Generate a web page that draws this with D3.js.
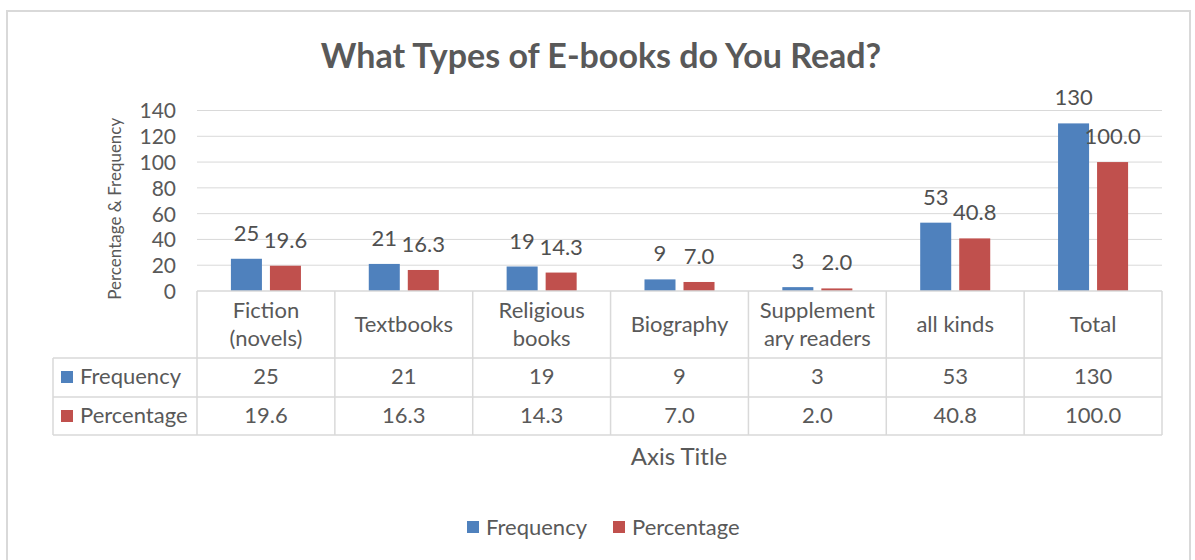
<!DOCTYPE html>
<html>
<head>
<meta charset="utf-8">
<script src="https://cdn.jsdelivr.net/npm/d3@7"></script>
<style>
  body { margin: 0; background: #ffffff; }
  text { font-family: Lato, "Open Sans", sans-serif; fill: #595959; }
  .title { font-weight: bold; }
</style>
</head>
<body>
<svg width="1195" height="560"></svg>
<script>
"use strict";

const title = "What Types of E-books do You Read?";
const categories = ["Fiction\n(novels)", "Textbooks", "Religious\nbooks", "Biography", "Supplement\nary readers", "all kinds", "Total"];
const seriesNames = ["Frequency", "Percentage"];
const frequency = [25, 21, 19, 9, 3, 53, 130];
const percentage = [19.6, 16.3, 14.3, 7.0, 2.0, 40.8, 100.0];
const yTicks = [0, 20, 40, 60, 80, 100, 120, 140];
const yAxisLabel = "Percentage & Frequency";
const xAxisLabel = "Axis Title";

const colors = { Frequency: "#4F81BD", Percentage: "#C0504D" };
const formats = { Frequency: d3.format("d"), Percentage: d3.format(".1f") };
const values = { Frequency: frequency, Percentage: percentage };

const svg = d3.select("svg");
const width = +svg.attr("width");
const height = +svg.attr("height");

const plot = { left: 197, right: 1162, top: 110.5, bottom: 291 };
const rows = { header: 358, freq: 397, pct: 435 };
const tableLeft = 53;
const gridColor = "#d9d9d9";

// chart frame
svg.append("rect")
  .attr("x", 7).attr("y", 11)
  .attr("width", 1183).attr("height", 560)
  .attr("fill", "#fff")
  .attr("stroke", "#d9d9d9")
  .attr("stroke-width", 2);

const xScale = d3.scaleBand()
  .domain(categories)
  .range([plot.left, plot.right]);

const bw = xScale.bandwidth();
const x1 = d3.scaleBand()
  .domain(seriesNames)
  .range([bw * 0.246, bw * 0.754])
  .paddingInner(0.205);

const yScale = d3.scaleLinear()
  .domain([0, 140])
  .range([plot.bottom, plot.top]);

// gridlines
svg.append("g")
  .selectAll("line")
  .data(yTicks.filter(d => d > 0))
  .enter()
  .append("line")
  .attr("x1", plot.left).attr("x2", plot.right)
  .attr("y1", d => yScale(d)).attr("y2", d => yScale(d))
  .attr("stroke", gridColor)
  .attr("stroke-width", 1);

// y axis
const yAxis = d3.axisLeft(yScale).tickValues(yTicks).tickSize(0).tickPadding(0);
const yAxisG = svg.append("g")
  .attr("transform", `translate(176,0)`)
  .call(yAxis);
yAxisG.select(".domain").remove();
yAxisG.selectAll("text")
  .attr("font-size", 21)
  .attr("font-family", null)
  .attr("fill", null)
  .attr("dy", "0.35em");

svg.append("text")
  .attr("transform", `translate(121,${(plot.top + plot.bottom) / 2 + 8}) rotate(-90)`)
  .attr("text-anchor", "middle")
  .attr("font-size", 17)
  .text(yAxisLabel);

// bars
const groups = svg.append("g")
  .selectAll("g")
  .data(categories)
  .enter()
  .append("g")
  .attr("transform", d => `translate(${xScale(d)},0)`);

seriesNames.forEach(s => {
  groups.append("rect")
    .attr("x", x1(s))
    .attr("width", x1.bandwidth())
    .attr("y", (d, i) => yScale(values[s][i]))
    .attr("height", (d, i) => plot.bottom - yScale(values[s][i]))
    .attr("fill", colors[s]);

  groups.append("text")
    .attr("x", x1(s) + x1.bandwidth() / 2)
    .attr("y", (d, i) => yScale(values[s][i]) - 18)
    .attr("text-anchor", "middle")
    .attr("font-size", 22)
    .style("fill", "#505050")
    .text((d, i) => formats[s](values[s][i]));
});

// data table
const table = svg.append("g")
  .attr("stroke", gridColor)
  .attr("stroke-width", 1.5);

table.append("line")
  .attr("x1", plot.left).attr("x2", plot.right)
  .attr("y1", plot.bottom).attr("y2", plot.bottom);
[rows.header, rows.freq, rows.pct].forEach(y => {
  table.append("line")
    .attr("x1", tableLeft).attr("x2", plot.right)
    .attr("y1", y).attr("y2", y);
});
table.append("line")
  .attr("x1", tableLeft).attr("x2", tableLeft)
  .attr("y1", rows.header).attr("y2", rows.pct);
table.selectAll(".vline")
  .data(categories.concat(["end"]))
  .enter()
  .append("line")
  .attr("class", "vline")
  .attr("x1", (d, i) => plot.left + i * bw)
  .attr("x2", (d, i) => plot.left + i * bw)
  .attr("y1", plot.bottom).attr("y2", rows.pct);

// category labels
const catText = svg.append("g")
  .selectAll("text")
  .data(categories)
  .enter()
  .append("text")
  .attr("text-anchor", "middle")
  .attr("font-size", 22)
  .attr("x", d => xScale(d) + bw / 2)
  .attr("y", d => d.includes("\n") ? 318 : 332);
catText.selectAll("tspan")
  .data(d => d.split("\n"))
  .enter()
  .append("tspan")
  .attr("x", function() { return this.parentNode.getAttribute("x"); })
  .attr("dy", (d, i) => i === 0 ? 0 : 28)
  .text(d => d);

// value rows
const rowBaselines = { Frequency: 384, Percentage: 423 };
seriesNames.forEach(s => {
  const rowY = rowBaselines[s];
  svg.append("rect")
    .attr("x", 61).attr("y", rowY - 13)
    .attr("width", 12).attr("height", 12)
    .attr("fill", colors[s]);
  svg.append("text")
    .attr("x", 80).attr("y", rowY)
    .attr("font-size", 22)
    .text(s);
  svg.append("g")
    .selectAll("text")
    .data(categories)
    .enter()
    .append("text")
    .attr("x", d => xScale(d) + bw / 2)
    .attr("y", rowY)
    .attr("text-anchor", "middle")
    .attr("font-size", 22)
    .text((d, i) => formats[s](values[s][i]));
});

// axis title
svg.append("text")
  .attr("x", 679).attr("y", 465)
  .attr("text-anchor", "middle")
  .attr("font-size", 24)
  .text(xAxisLabel);

// chart title
svg.append("text")
  .attr("class", "title")
  .attr("x", 601).attr("y", 68)
  .attr("text-anchor", "middle")
  .attr("font-size", 34)
  .text(title);

// legend
const legend = svg.append("g").attr("transform", "translate(467,535)");
const legendX = { Frequency: 0, Percentage: 146 };
seriesNames.forEach(s => {
  legend.append("rect")
    .attr("x", legendX[s]).attr("y", -14)
    .attr("width", 12).attr("height", 12)
    .attr("fill", colors[s]);
  legend.append("text")
    .attr("x", legendX[s] + 19).attr("y", 0)
    .attr("font-size", 22)
    .text(s);
});
</script>
</body>
</html>
